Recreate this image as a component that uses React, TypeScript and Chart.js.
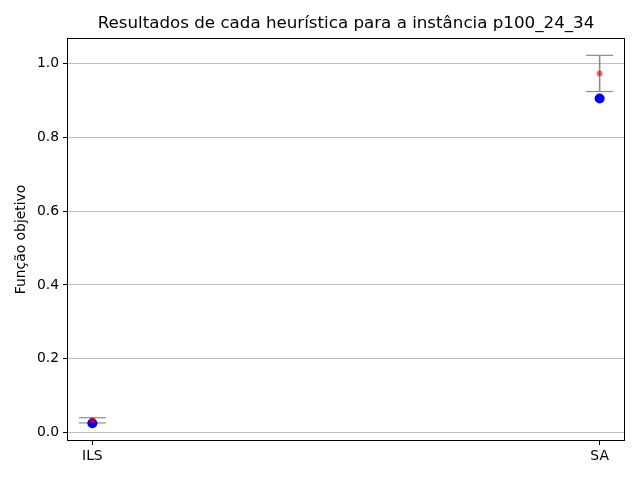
import React, { useEffect, useRef } from "react";
import { Chart, registerables } from "chart.js";

Chart.register(...registerables);

const categories = ["ILS", "SA"];
const meanValues = [0.033, 0.973];
const stdValues = [0.007, 0.049];
const bestValues = [0.025, 0.905];
const yTicks = [0, 0.2, 0.4, 0.6, 0.8, 1.0];
const titleText = "Resultados de cada heurística para a instância p100_24_34";

const FONT = "DejaVu Sans";

const framePlugin = {
  id: "frame",
  afterDraw(chart: any) {
    const { ctx, chartArea } = chart;
    ctx.save();
    ctx.strokeStyle = "black";
    ctx.lineWidth = 1;
    ctx.strokeRect(
      Math.round(chartArea.left) + 0.5,
      Math.round(chartArea.top) + 0.5,
      Math.round(chartArea.right - chartArea.left) - 1,
      Math.round(chartArea.bottom - chartArea.top) - 1
    );
    ctx.fillStyle = "black";
    ctx.font = `16.7px "${FONT}"`;
    ctx.textAlign = "center";
    ctx.textBaseline = "middle";
    ctx.fillText(titleText, (chartArea.left + chartArea.right) / 2, 24);
    ctx.restore();
  },
};

export default function App() {
  const ref = useRef<HTMLCanvasElement>(null);
  useEffect(() => {
    if (!ref.current) return;
    const errColor = "rgba(128,128,128,0.9)";
    const barDatasets = categories.map((_, i) => ({
      type: "line" as const,
      data: [
        { x: i, y: meanValues[i] - stdValues[i] },
        { x: i, y: meanValues[i] + stdValues[i] },
      ],
      borderColor: errColor,
      borderWidth: 1.6,
      pointRadius: 0,
      order: 3,
    }));
    const capDataset = {
      type: "scatter" as const,
      data: categories.flatMap((_, i) => [
        { x: i, y: meanValues[i] - stdValues[i] },
        { x: i, y: meanValues[i] + stdValues[i] },
      ]),
      pointStyle: "line",
      pointRadius: 13.5,
      borderColor: errColor,
      borderWidth: 1.2,
      order: 2,
    };
    const chart = new Chart(ref.current, {
      type: "scatter",
      data: {
        datasets: [
          {
            type: "scatter",
            data: categories.map((_, i) => ({ x: i, y: meanValues[i] })),
            pointRadius: 3,
            backgroundColor: "rgba(255,0,0,0.6)",
            borderWidth: 0,
            order: 0,
          },
          {
            type: "scatter",
            data: categories.map((_, i) => ({ x: i, y: bestValues[i] })),
            pointRadius: 5,
            backgroundColor: "#0000ff",
            borderWidth: 0,
            order: 1,
          },
          capDataset as any,
          ...(barDatasets as any[]),
        ],
      },
      options: {
        responsive: false,
        animation: false,
        layout: { padding: { left: 0, right: 15, top: 38, bottom: 0 } },
        plugins: {
          legend: { display: false },
          tooltip: { enabled: false },
          title: { display: false },
        },
        scales: {
          x: {
            type: "linear",
            min: -0.05,
            max: 1.05,
            afterBuildTicks: (s: any) => {
              s.ticks = categories.map((_, i) => ({ value: i }));
            },
            afterFit: (s: any) => {
              s.height = 39;
            },
            ticks: {
              color: "black",
              font: { family: FONT, size: 13.9 },
              padding: 3,
              maxRotation: 0,
              autoSkip: false,
              callback: (v: any) => categories[Math.round(Number(v))] ?? "",
            },
            grid: {
              drawOnChartArea: false,
              tickColor: "black",
              tickLength: 4,
              tickWidth: 1,
            },
            border: { display: false },
          },
          y: {
            type: "linear",
            min: -0.023,
            max: 1.069,
            afterBuildTicks: (s: any) => {
              s.ticks = yTicks.map((v) => ({ value: v }));
            },
            afterFit: (s: any) => {
              s.width = 67;
            },
            ticks: {
              color: "black",
              font: { family: FONT, size: 13.9 },
              padding: 4,
              callback: (v: any) => Number(v).toFixed(1),
            },
            grid: {
              color: "#b0b0b0",
              lineWidth: 0.8,
              tickColor: "black",
              tickLength: 4,
              tickWidth: 1,
            },
            border: { display: false },
            title: {
              display: true,
              text: "Função objetivo",
              color: "black",
              font: { family: FONT, size: 13.9 },
              padding: { top: 13, bottom: 0 },
            },
          },
        },
      },
      plugins: [framePlugin],
    });
    return () => chart.destroy();
  }, []);
  return (
    <div style={{ position: "absolute", left: 0, top: 0, width: 640, height: 480, background: "white" }}>
      <canvas ref={ref} width={640} height={480} />
    </div>
  );
}
